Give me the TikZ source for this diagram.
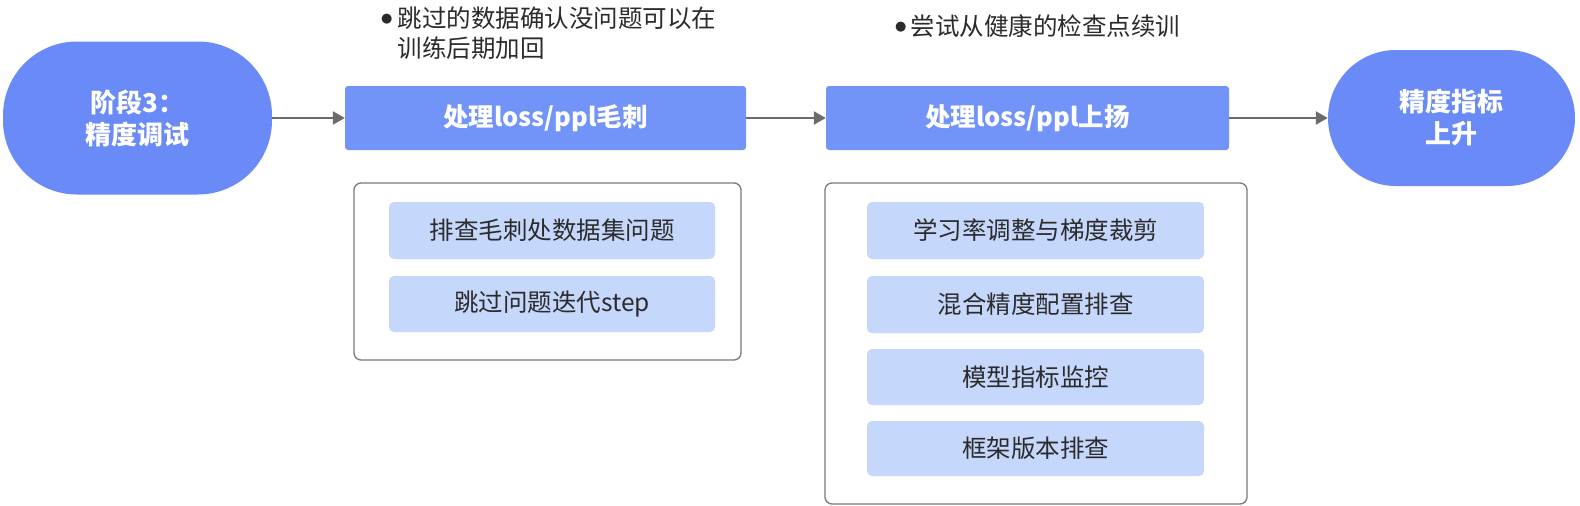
\documentclass[tikz,border=0pt]{standalone}
\usepackage{fontspec}
\setmainfont{Noto Sans CJK SC}
\newfontfamily\symfont{DejaVu Sans}
\usetikzlibrary{arrows.meta}
\definecolor{mainblue}{HTML}{6A8BF7}
\definecolor{boxblue}{HTML}{7293F8}
\definecolor{lightblue}{HTML}{C6D7FC}
\definecolor{arrowgray}{HTML}{6B6B6B}
\definecolor{framegray}{HTML}{7A7A7A}
\definecolor{txt}{HTML}{2B2B2B}
\newcommand{\bul}{\raisebox{5pt}{\symfont\fontsize{13}{13}\selectfont ●}}
\tikzset{
  stadium/.style={fill=mainblue, draw=none, rounded corners=74pt, text=white, font=\fontsize{26}{32}\selectfont\bfseries, align=center, inner sep=0pt},
  headbox/.style={fill=boxblue, draw=none, rounded corners=3pt, text=white, font=\fontsize{25.5}{30}\selectfont\bfseries, inner sep=0pt},
  frame/.style={draw=framegray, line width=1.3pt, rounded corners=7pt, fill=white},
  itembox/.style={fill=lightblue, draw=none, rounded corners=5pt, text=txt, font=\fontsize{24.5}{28}\selectfont, inner sep=0pt},
  note/.style={text=txt, font=\fontsize{24.5}{30}\selectfont, inner sep=0pt, anchor=north west, align=left},
  conn/.style={draw=arrowgray, line width=2.4pt, -{Triangle[length=12pt,width=13pt]}}
}
\begin{document}
\begin{tikzpicture}[x=1pt,y=-1pt]
\useasboundingbox (0,0) rectangle (1580,506);
% stage nodes
\node[stadium, minimum width=269pt, minimum height=153pt] (start) at (137.5,118) {阶段3：\\精度调试};
\node[headbox, minimum width=401pt, minimum height=64pt] (spike) at (545.5,118) {处理loss/ppl毛刺};
\node[headbox, minimum width=403pt, minimum height=64pt] (rise) at (1027.5,118) {处理loss/ppl上扬};
\node[stadium, rounded corners=68pt, minimum width=247pt, minimum height=136pt] (goal) at (1451.5,118) {精度指标\\上升};
% connectors
\draw[conn] (start.east) -- (spike.west);
\draw[conn] (spike.east) -- (rise.west);
\draw[conn] (rise.east) -- (goal.west);
% notes
\node[note] (note1) at (381,6) {\begin{tabular}{@{}l@{\hspace{5pt}}l@{}}\bul&跳过的数据确认没问题可以在\\&训练后期加回\end{tabular}};
\node[note] (note2) at (895,14) {\bul\hspace{4pt}尝试从健康的检查点续训};
% frames
\node[frame, minimum width=387pt, minimum height=177pt] (frame1) at (547.5,271.5) {};
\node[frame, minimum width=422pt, minimum height=321pt] (frame2) at (1036,343.5) {};
% items
\node[itembox, minimum width=326pt, minimum height=57pt] (a1) at (552,230.5) {排查毛刺处数据集问题};
\node[itembox, minimum width=326pt, minimum height=56pt] (a2) at (552,304) {跳过问题迭代step};
\node[itembox, minimum width=337pt, minimum height=57pt] (b1) at (1035.5,230.5) {学习率调整与梯度裁剪};
\node[itembox, minimum width=337pt, minimum height=57pt] (b2) at (1035.5,304.5) {混合精度配置排查};
\node[itembox, minimum width=337pt, minimum height=56pt] (b3) at (1035.5,377) {模型指标监控};
\node[itembox, minimum width=337pt, minimum height=55pt] (b4) at (1035.5,448.5) {框架版本排查};
\end{tikzpicture}
\end{document}
